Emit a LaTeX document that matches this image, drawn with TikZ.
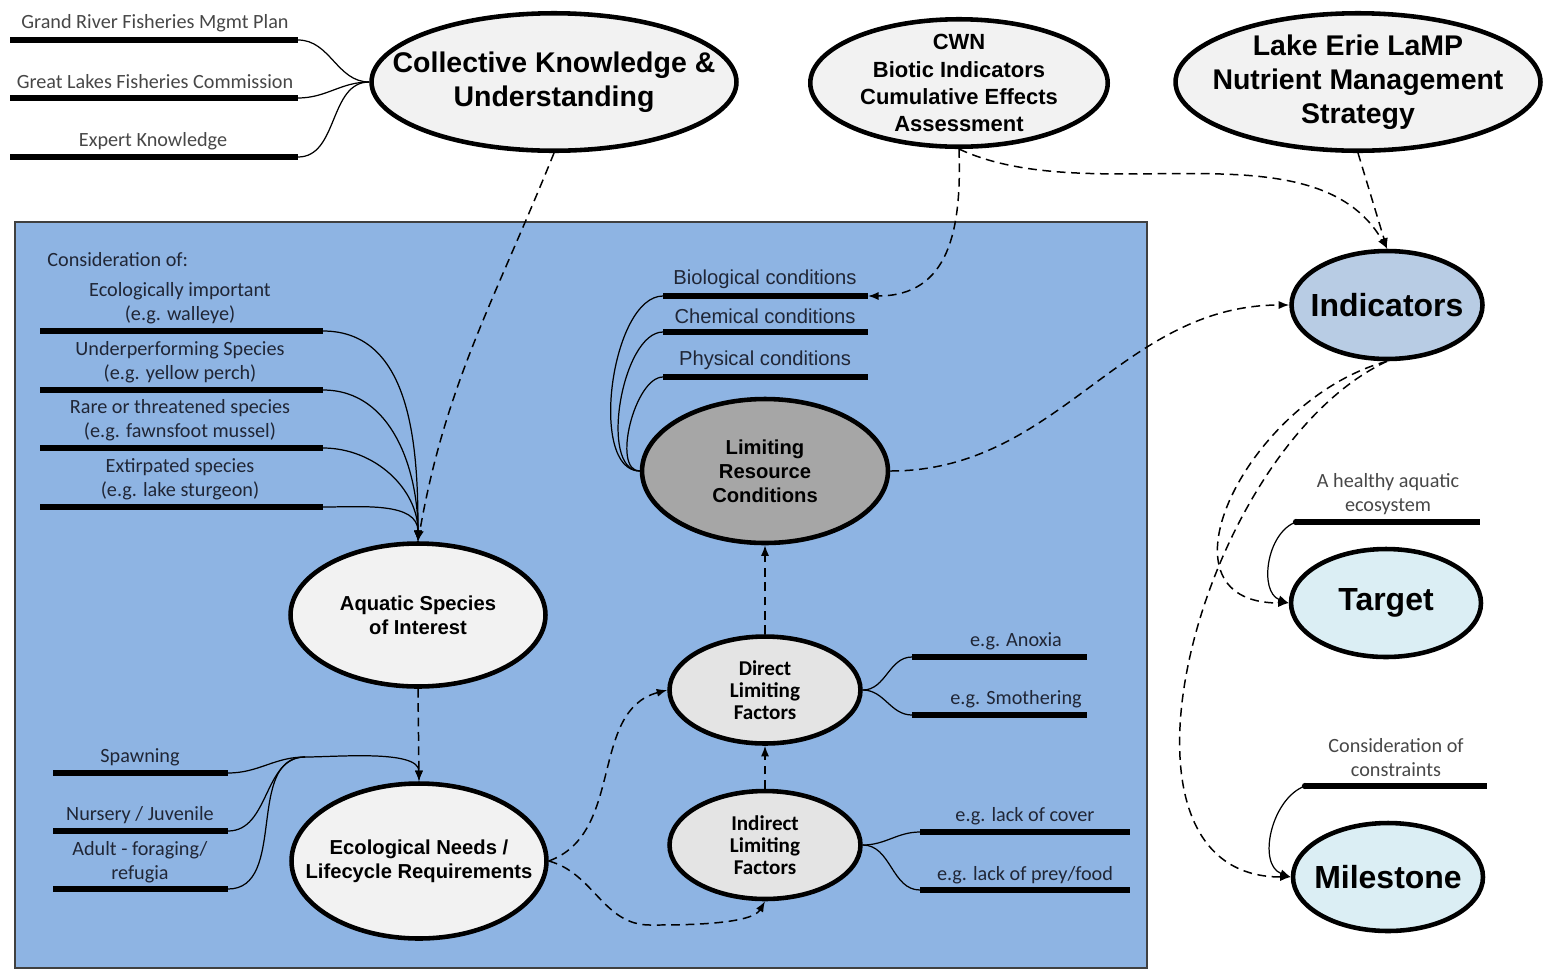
\documentclass[tikz,border=0pt]{standalone}
\usepackage{fontspec}
\setmainfont{Liberation Sans}
\newfontfamily\calibri{Carlito}
\usepackage{tikz}
\usetikzlibrary{arrows.meta,shapes.geometric}

\definecolor{lakeblue}{RGB}{142,180,227}
\definecolor{paleell}{RGB}{242,242,242}
\definecolor{factorell}{RGB}{228,228,228}
\definecolor{limitell}{RGB}{166,166,166}
\definecolor{indicell}{RGB}{184,204,228}
\definecolor{goalell}{RGB}{219,238,244}
\definecolor{labelink}{RGB}{32,38,54}

\begin{document}
\begin{tikzpicture}[x=0.02cm,y=0.02cm,>={Latex[length=6pt,width=4.6pt]},
  bubble/.style={ellipse,draw,line width=2.6pt,inner xsep=-3cm,inner ysep=-3cm,align=center,text=black},
  bigtext/.style={font=\fontsize{16.2}{19.3}\selectfont\bfseries},
  cwntext/.style={font=\fontsize{12.5}{15.4}\selectfont\bfseries},
  midtext/.style={font=\fontsize{11.5}{13.7}\selectfont\bfseries},
  factortext/.style={font=\calibri\fontsize{12}{12.6}\selectfont\bfseries},
  keytext/.style={font=\fontsize{18.2}{21}\selectfont\bfseries},
  barlabel/.style={font=\calibri\fontsize{11.5}{13.7}\selectfont,text=labelink,align=center,inner sep=0pt},
  condlabel/.style={font=\fontsize{11.5}{13.7}\selectfont,text=labelink,inner sep=0pt},
  labelbar/.style={line width=3pt},
  feed/.style={line width=0.7pt},
  flow/.style={line width=0.85pt,dash pattern=on 5pt off 3.2pt,->},
]
  \useasboundingbox (0,0) rectangle (1548,-971);

  % Panel behind the species / conditions part
  \fill[lakeblue] (15,-222) rectangle (1147,-968);
  \draw[black!75,line width=0.8pt] (15,-222) rectangle (1147,-968);

  % Top row
  \node[bubble,fill=paleell,minimum width=7.3cm,minimum height=2.75cm,bigtext] (ck) at (554,-82) {Collective Knowledge \&\\Understanding};
  \node[bubble,fill=paleell,minimum width=5.95cm,minimum height=2.55cm,cwntext] (cwn) at (959,-83) {CWN\\Biotic Indicators\\Cumulative Effects\\Assessment};
  \node[bubble,fill=paleell,minimum width=7.3cm,minimum height=2.75cm,bigtext] (lamp) at (1358,-82) {Lake Erie LaMP\\Nutrient Management\\Strategy};

  % Right column
  \node[bubble,fill=indicell,minimum width=3.82cm,minimum height=2.16cm,keytext] (indic) at (1387,-305) {Indicators};
  \node[bubble,fill=goalell,minimum width=3.8cm,minimum height=2.16cm,keytext] (target) at (1386,-603) {Target};
  \node[bubble,fill=goalell,minimum width=3.8cm,minimum height=2.16cm,keytext] (milestone) at (1388,-877) {Milestone};

  % Limiting factors chain
  \node[bubble,fill=limitell,minimum width=4.92cm,minimum height=2.88cm,midtext] (lrc) at (765,-471) {Limiting\\Resource\\Conditions};
  \node[bubble,fill=factorell,minimum width=3.82cm,minimum height=2.14cm,factortext] (dlf) at (765,-690) {Direct\\Limiting\\Factors};
  \node[bubble,fill=factorell,minimum width=3.82cm,minimum height=2.16cm,factortext] (ilf) at (765,-845) {Indirect\\Limiting\\Factors};

  % Species and their needs
  \node[bubble,fill=paleell,minimum width=5.1cm,minimum height=2.86cm,midtext] (species) at (418,-615) {Aquatic Species\\of Interest};
  \node[bubble,fill=paleell,minimum width=5.1cm,minimum height=3.1cm,midtext] (needs) at (419,-861) {Ecological Needs /\\Lifecycle Requirements};

  % Sources of knowledge
  \node[barlabel,text=black!72] (grplan) at (155,-23) {Grand River Fisheries Mgmt Plan};
  \draw[labelbar] (10,-40) -- (298,-40) coordinate (grplan-r);
  \node[barlabel,text=black!72] (glfc) at (155,-82) {Great Lakes Fisheries Commission};
  \draw[labelbar] (10,-98) -- (298,-98) coordinate (glfc-r);
  \node[barlabel,text=black!72] (expert) at (153,-141) {Expert Knowledge};
  \draw[labelbar] (10,-157) -- (298,-157) coordinate (expert-r);
  \draw[feed] (grplan-r) to[out=0,in=180] (ck.west);
  \draw[feed] (glfc-r) to[out=0,in=180] (ck.west);
  \draw[feed] (expert-r) to[out=0,in=180] (ck.west);

  % Species considered
  \node[barlabel,anchor=west] (consid) at (47,-260) {Consideration of:};
  \node[barlabel] (ecoimp) at (180,-303) {Ecologically important\\(e.g. walleye)};
  \draw[labelbar] (40,-331) -- (323,-331) coordinate (ecoimp-r);
  \node[barlabel] (underperf) at (180,-362) {Underperforming Species\\(e.g. yellow perch)};
  \draw[labelbar] (40,-390) -- (323,-390) coordinate (underperf-r);
  \node[barlabel] (rare) at (180,-420) {Rare or threatened species\\(e.g. fawnsfoot mussel)};
  \draw[labelbar] (40,-448) -- (323,-448) coordinate (rare-r);
  \node[barlabel] (extirp) at (180,-479) {Extirpated species\\(e.g. lake sturgeon)};
  \draw[labelbar] (40,-507) -- (323,-507) coordinate (extirp-r);
  \draw[feed,->] (ecoimp-r) to[out=0,in=90] (species.north);
  \draw[feed,->] (underperf-r) to[out=0,in=90] (species.north);
  \draw[feed,->] (rare-r) to[out=0,in=90] (species.north);
  \draw[feed,->] (extirp-r) to[out=0,in=90] (species.north);

  % Lifecycle stages
  \node[barlabel] (spawn) at (140,-757) {Spawning};
  \draw[labelbar] (53,-773) -- (228,-773) coordinate (spawn-r);
  \node[barlabel] (nursery) at (140,-815) {Nursery / Juvenile};
  \draw[labelbar] (53,-831) -- (228,-831) coordinate (nursery-r);
  \node[barlabel] (adult) at (140,-862) {Adult - foraging/\\refugia};
  \draw[labelbar] (53,-889) -- (228,-889) coordinate (adult-r);
  \coordinate (life-join) at (305,-757);
  \draw[feed] (spawn-r) to[out=0,in=180] (life-join);
  \draw[feed] (nursery-r) to[out=0,in=180] (life-join);
  \draw[feed] (adult-r) to[out=0,in=180] (life-join);
  \draw[feed,->] (life-join) to[out=0,in=90,looseness=0.7] (needs.north);

  % Resource conditions
  \node[condlabel] (bio) at (765,-279) {Biological conditions};
  \draw[labelbar] (663,-296) coordinate (bio-l) -- (868,-296) coordinate (bio-r);
  \node[condlabel] (chem) at (765,-316) {Chemical conditions};
  \draw[labelbar] (663,-332) coordinate (chem-l) -- (868,-332);
  \node[condlabel] (phys) at (765,-360) {Physical conditions};
  \draw[labelbar] (663,-377) coordinate (phys-l) -- (868,-377);
  \draw[feed] (bio-l) to[out=180,in=180,looseness=0.75] (lrc.west);
  \draw[feed] (chem-l) to[out=180,in=180,looseness=0.75] (lrc.west);
  \draw[feed] (phys-l) to[out=180,in=180,looseness=0.75] (lrc.west);

  % Example factors
  \node[barlabel] (anoxia) at (1016,-641) {e.g. Anoxia};
  \draw[labelbar] (912,-657) coordinate (anoxia-l) -- (1087,-657);
  \node[barlabel] (smother) at (1016,-699) {e.g. Smothering};
  \draw[labelbar] (912,-715) coordinate (smother-l) -- (1087,-715);
  \node[barlabel] (cover) at (1025,-816) {e.g. lack of cover};
  \draw[labelbar] (920,-832) coordinate (cover-l) -- (1130,-832);
  \node[barlabel] (prey) at (1025,-875) {e.g. lack of prey/food};
  \draw[labelbar] (920,-890) coordinate (prey-l) -- (1130,-890);
  \draw[feed] (dlf.east) to[out=0,in=180] (anoxia-l);
  \draw[feed] (dlf.east) to[out=0,in=180] (smother-l);
  \draw[feed] (ilf.east) to[out=0,in=180] (cover-l);
  \draw[feed] (ilf.east) to[out=0,in=180] (prey-l);

  % Target and milestone notes
  \node[barlabel,text=black!72] (healthy) at (1388,-494) {A healthy aquatic\\ecosystem};
  \draw[labelbar] (1296,-522) coordinate (healthy-l) -- (1480,-522);
  \fill (healthy-l) circle[radius=1.8pt];
  \node[barlabel,text=black!72] (constr) at (1396,-758) {Consideration of\\constraints};
  \draw[labelbar] (1305,-786) coordinate (constr-l) -- (1487,-786);
  \fill (constr-l) circle[radius=1.8pt];
  \draw[feed,->] (healthy-l) to[out=200,in=160] (target.west);
  \draw[feed,->] (constr-l) to[out=200,in=160] (milestone.west);

  % Dashed influences
  \draw[flow] (ck.south) to[out=-112,in=80] (species.north);
  \draw[flow] (species.south) -- (needs.north);
  \draw[flow] (needs.east) to[out=20,in=195] (dlf.west);
  \coordinate (needs-dip) at (650,-925);
  \draw[flow] (needs.east) to[out=-15,in=180] (needs-dip) to[out=0,in=-120,looseness=0.6] (ilf.south);
  \draw[flow] (ilf.north) -- (dlf.south);
  \draw[flow] (dlf.north) -- (lrc.south);
  \draw[flow] (cwn.south) to[out=-88,in=0,looseness=1.2] (bio-r);
  \draw[flow] (cwn.south) to[out=-25,in=120,looseness=0.85] (indic.north);
  \draw[flow] (lamp.south) -- (indic.north);
  \draw[flow] (lrc.east) to[out=0,in=180] (indic.west);
  \draw[flow] (indic.south) to[out=195,in=180,looseness=1.4] (target.west);
  \draw[flow] (indic.south) to[out=205,in=180] (milestone.west);
\end{tikzpicture}
\end{document}
